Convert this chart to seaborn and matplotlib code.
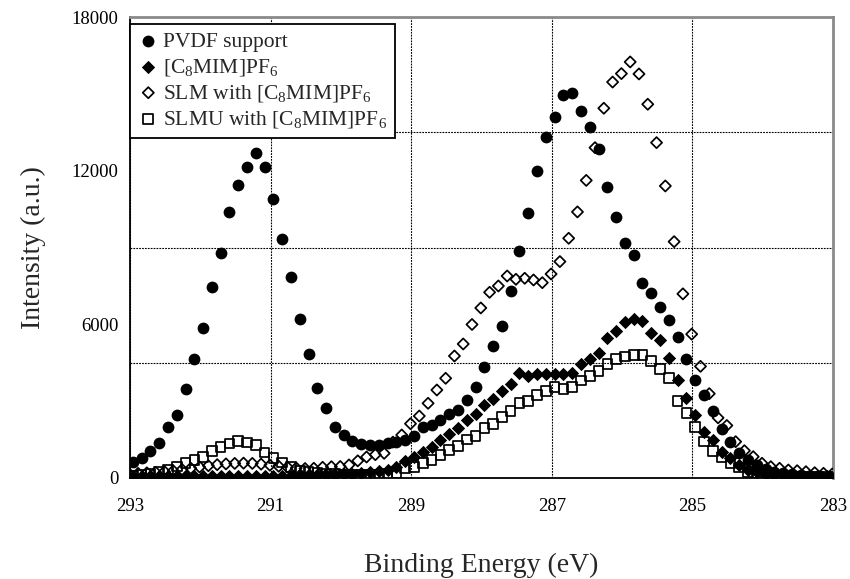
import matplotlib
matplotlib.use("Agg")
import matplotlib.pyplot as plt
import seaborn as sns
import numpy as np
import pandas as pd
from matplotlib.ticker import MultipleLocator

# ---------------- data ----------------
binding_energy = [
    293.0, 292.875, 292.75, 292.625, 292.5, 292.375, 292.25, 292.125, 292.0,
    291.875, 291.75, 291.625, 291.5, 291.375, 291.25, 291.125, 291.0,
    290.875, 290.75, 290.625, 290.5, 290.375, 290.25, 290.125, 290.0,
    289.875, 289.75, 289.625, 289.5, 289.375, 289.25, 289.125, 289.0,
    288.875, 288.75, 288.625, 288.5, 288.375, 288.25, 288.125, 288.0,
    287.875, 287.75, 287.625, 287.5, 287.375, 287.25, 287.125, 287.0,
    286.875, 286.75, 286.625, 286.5, 286.375, 286.25, 286.125, 286.0,
    285.875, 285.75, 285.625, 285.5, 285.375, 285.25, 285.125, 285.0,
    284.875, 284.75, 284.625, 284.5, 284.375, 284.25, 284.125, 284.0,
    283.875, 283.75, 283.625, 283.5, 283.375, 283.25, 283.125, 283.0,
]

# small calibration offsets (eV) of each series' energy scale
energy_shift = {"pvdf": -0.04, "c8mim": -0.04, "slm": 0.01, "slmu": -0.04}

pvdf = [637, 769, 1066, 1378, 1972, 2452, 3456, 4635, 5846, 7447, 8775,
        10400, 11442, 12156, 12680, 12156, 10883, 9321, 7837, 6209, 4854,
        3530, 2750, 1985, 1690, 1457, 1328, 1289, 1289, 1355, 1418, 1484,
        1640, 2003, 2070, 2265, 2500, 2670, 3046, 3555, 4330, 5170, 5930,
        7308, 8876, 10360, 12000, 13328, 14086, 14956, 15022, 14331, 13719,
        12836, 11360, 10190, 9195, 8708, 7615, 7225, 6689, 6170, 5500, 4640,
        3840, 3241, 2610, 1910, 1418, 976, 700, 500, 350, 250, 200, 150,
        100, 80, 60, 50, 50]

c8mim = [60, 60, 70, 70, 70, 70, 80, 80, 80, 80, 80, 80, 80, 80, 80, 80,
         80, 80, 80,
         80, 90, 100, 110, 120, 140, 160, 190, 220, 260, 310,
         420, 660, 830, 1030, 1200, 1480, 1720, 1940, 2265, 2480, 2851, 3090,
         3400, 3671, 4100,
         3990, 4061, 4061, 4061, 4061, 4088, 4446, 4655, 4893, 5475, 5746,
         6104, 6197, 6123, 5680, 5375, 4674, 3827, 3110, 2454, 1790, 1470,
         1010, 769, 508,
         312, 230, 170, 130, 100, 80, 70, 60, 60, 60, 60]

slm = [160, 180, 200, 220, 250, 280, 330, 380, 430,
       480, 520, 550, 570, 580, 570, 540, 500, 460,
       420, 390, 370, 380, 418, 441, 450, 510,
       670, 820, 910, 964, 1400, 1679, 2120, 2420, 2917, 3436, 3893, 4764,
       5233, 5995, 6640,
       7251, 7498, 7888, 7759, 7798, 7732, 7627, 7966, 8450, 9360, 10390,
       11620,
       12898, 14437, 15460, 15790, 16245, 15776, 14593, 13094, 11403, 9228,
       7190, 5617,
       4360, 3293, 2350, 2050, 1418, 1066, 832, 574, 441, 379, 312, 285, 246,
       207, 183, 156]

slmu = [100, 130, 170, 230, 330, 450,
        574, 703, 832, 1045, 1222, 1353, 1438, 1386, 1289, 996, 781, 605,
        418, 300, 230, 190, 170, 150, 140, 130, 130, 130, 140, 160,
        183, 379, 418, 574, 703, 898, 1093, 1250, 1500, 1650, 1941, 2100,
        2382, 2628, 2930,
        3007, 3241, 3409, 3542, 3475, 3565, 3800, 3983, 4190, 4440, 4635,
        4737, 4803, 4803, 4560,
        4250, 3893, 3010, 2546, 1990, 1430, 1060, 800, 585, 410, 246,
        170, 120, 90, 70, 60, 50, 50, 50, 50, 50]

labels = {
    "pvdf": "PVDF support",
    "c8mim": r"[C$_8$MIM]PF$_6$",
    "slm": r"SLM with [C$_8$MIM]PF$_6$",
    "slmu": r"SLMU with [C$_8$MIM]PF$_6$",
}
values = {"pvdf": pvdf, "c8mim": c8mim, "slm": slm, "slmu": slmu}

x_ticks = [293, 291, 289, 287, 285, 283]
y_ticks = [0, 6000, 12000, 18000]

# ---------------- styling ----------------
sns.set_style("white")
plt.rcParams["font.family"] = ["Liberation Serif", "DejaVu Serif"]
plt.rcParams["mathtext.fontset"] = "custom"
plt.rcParams["mathtext.rm"] = "Liberation Serif"
plt.rcParams["mathtext.it"] = "Liberation Serif:italic"
plt.rcParams["mathtext.default"] = "regular"

styles = {
    "pvdf": dict(marker="o", s=72, facecolor="black", edgecolor="black", linewidth=0),
    "c8mim": dict(marker="D", s=46, facecolor="black", edgecolor="black", linewidth=0),
    "slm": dict(marker="D", s=32, facecolor="none", edgecolor="black", linewidth=1.25),
    "slmu": dict(marker="s", s=48, facecolor="none", edgecolor="black", linewidth=1.25),
}

fig = plt.figure(figsize=(8.5, 5.79), dpi=100)
ax = fig.add_axes([130 / 850, 1 - 478 / 579, 703 / 850, 461 / 579])

be = np.array(binding_energy)
for key in ["pvdf", "c8mim", "slm", "slmu"]:
    df = pd.DataFrame({"BE": be + energy_shift[key], "I": values[key]})
    sns.scatterplot(data=df, x="BE", y="I", ax=ax, label=labels[key],
                    zorder=3, **styles[key])

ax.set_xlim(293, 283)
ax.set_ylim(0, 18000)
ax.set_xticks(x_ticks)
ax.set_yticks(y_ticks)
ax.yaxis.set_minor_locator(MultipleLocator(4500))

ax.set_axisbelow(True)
grid_kw = dict(color="black", linestyle=(0, (1.6, 1.0)), linewidth=0.8)
ax.grid(axis="x", which="major", **grid_kw)
ax.grid(axis="y", which="minor", **grid_kw)
ax.grid(axis="y", which="major", visible=False)

ax.tick_params(axis="both", which="major", direction="inout", length=7,
               width=1.2, color="black", labelsize=13.5, labelcolor="black")
ax.tick_params(axis="x", pad=11)
ax.tick_params(axis="y", pad=5)
ax.tick_params(which="minor", length=0)

for side in ["left", "bottom"]:
    ax.spines[side].set_color("black")
    ax.spines[side].set_linewidth(1.3)
for side in ["top", "right"]:
    ax.spines[side].set_color("#8a8a8a")
    ax.spines[side].set_linewidth(2.0)

ax.set_xlabel("Binding Energy (eV)", fontsize=20)
ax.set_ylabel("Intensity (a.u.)", fontsize=20)
ax.xaxis.set_label_coords(0.5, -0.163)
ax.yaxis.set_label_coords(-0.12, 0.5)

leg = ax.legend(loc="upper left", bbox_to_anchor=(0.0, 0.985),
                borderaxespad=0, frameon=True, fancybox=False,
                edgecolor="black", framealpha=1, fontsize=15.5,
                borderpad=0.35, labelspacing=0.24, handletextpad=0.2,
                handlelength=1.0, scatterpoints=1)
leg.get_frame().set_linewidth(1.3)
leg.set_zorder(5)

fig.savefig("out.png", dpi=100)
